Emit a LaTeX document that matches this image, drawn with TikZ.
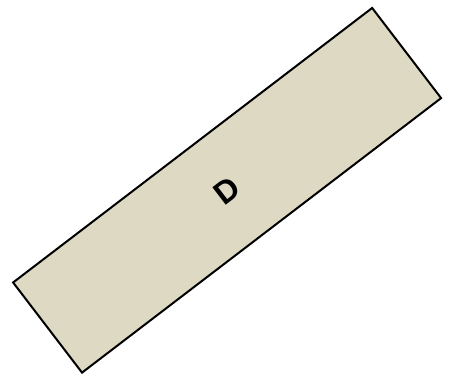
\documentclass[tikz,border=0pt]{standalone}
\usepackage{fontspec}
\setmainfont{Liberation Sans}
\usepackage{tikz}
\usetikzlibrary{positioning}
\usepackage{xcolor}
\definecolor{plotbeige}{RGB}{221,217,195}

\begin{document}
\begin{tikzpicture}[x=1pt,y=1pt,
  plot/.style={draw=black,line width=2pt,line join=miter,fill=plotbeige,
    minimum width=452pt,minimum height=113.5pt,inner sep=0pt,
    font=\bfseries\fontsize{32}{36}\selectfont}]
  \useasboundingbox (0,0) rectangle (451,375);

  % 区画 D
  \node[plot,rotate=37.4] (plotD) at (227.1,184.7) {D};
\end{tikzpicture}
\end{document}
